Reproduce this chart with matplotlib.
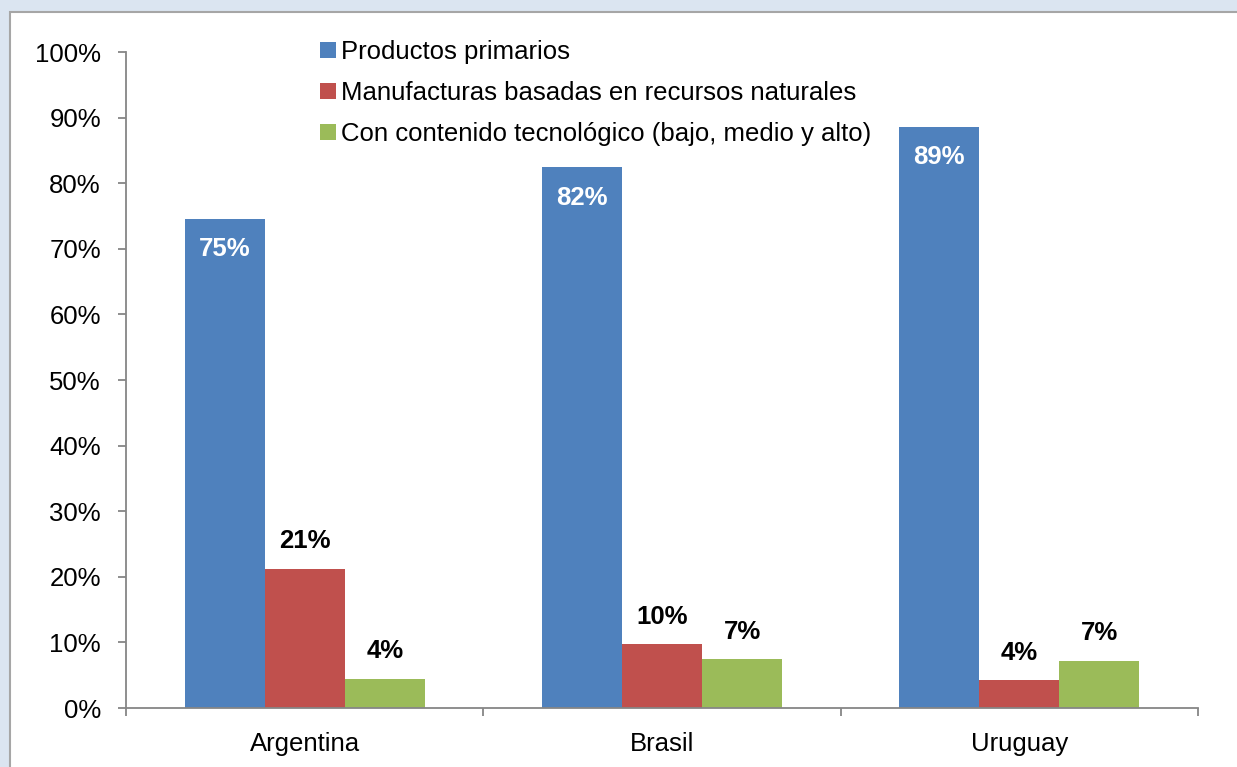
import numpy as np
import matplotlib.pyplot as plt
from matplotlib.patches import Rectangle

# Datos: participación de cada tipo de producto en las exportaciones
paises = ['Argentina', 'Brasil', 'Uruguay']
primarios = [74.6, 82.4, 88.6]
manufacturas = [21.2, 9.7, 4.2]
tecnologia = [4.4, 7.4, 7.2]
series = ['Productos primarios',
          'Manufacturas basadas en recursos naturales',
          'Con contenido tecnológico (bajo, medio y alto)']
colores = ['#4f81bd', '#c0504d', '#9bbb59']

plt.rcParams['font.family'] = ['Liberation Sans', 'DejaVu Sans']
fs = 18.5

fig = plt.figure(figsize=(12.37, 7.67), dpi=100, facecolor='#dbe5f1')
# panel blanco con borde gris
fig.patches.append(Rectangle((10 / 1237, -0.01), 1.0, 1 - 12 / 767 + 0.01,
                             transform=fig.transFigure, facecolor='white',
                             edgecolor='#a6a6a6', linewidth=1.5, zorder=-10))

ax = fig.add_axes([126 / 1237, 1 - 708 / 767, (1198 - 126) / 1237, (708 - 52) / 767])
ax.set_facecolor('none')

x = np.arange(len(paises))
w = 0.224
datos = [primarios, manufacturas, tecnologia]
for i, (vals, col, nombre) in enumerate(zip(datos, colores, series)):
    barras = ax.bar(x + (i - 1) * w, vals, w, color=col, label=nombre, zorder=2)
    for b, v in zip(barras, vals):
        if i == 0:
            ax.annotate('%.0f%%' % v, (b.get_x() + b.get_width() / 2, v),
                        xytext=(0, -22), textcoords='offset points',
                        ha='center', va='center', color='white',
                        fontsize=fs, fontweight='bold')
        else:
            ax.annotate('%.0f%%' % v, (b.get_x() + b.get_width() / 2, v),
                        xytext=(0, 20), textcoords='offset points',
                        ha='center', va='center', color='black',
                        fontsize=fs, fontweight='bold')

ax.set_xlim(-0.5, 2.5)
ax.set_ylim(0, 100)
ax.set_yticks(np.arange(0, 101, 10))
ax.set_yticklabels(['%d%%' % t for t in range(0, 101, 10)])
ax.set_xticks(x)
ax.set_xticklabels(paises)
ax.set_xticks(np.arange(-0.5, 2.6, 1), minor=True)
ax.tick_params(axis='x', which='major', length=0, pad=17, labelsize=fs)
ax.tick_params(axis='x', which='minor', length=6, width=1.3, color='#868686', direction='out')
ax.tick_params(axis='y', length=6, width=1.3, color='#868686', labelsize=fs, pad=12)
for s in ['top', 'right']:
    ax.spines[s].set_visible(False)
for s in ['left', 'bottom']:
    ax.spines[s].set_color('#868686')
    ax.spines[s].set_linewidth(1.3)

ax.legend(loc='upper left', bbox_to_anchor=(0.181, 1.018), frameon=False,
          fontsize=fs, handlelength=0.62, handleheight=0.62, handletextpad=0.2,
          labelspacing=0.66, borderaxespad=0, borderpad=0)

fig.savefig('out.png', dpi=100, facecolor=fig.get_facecolor())
